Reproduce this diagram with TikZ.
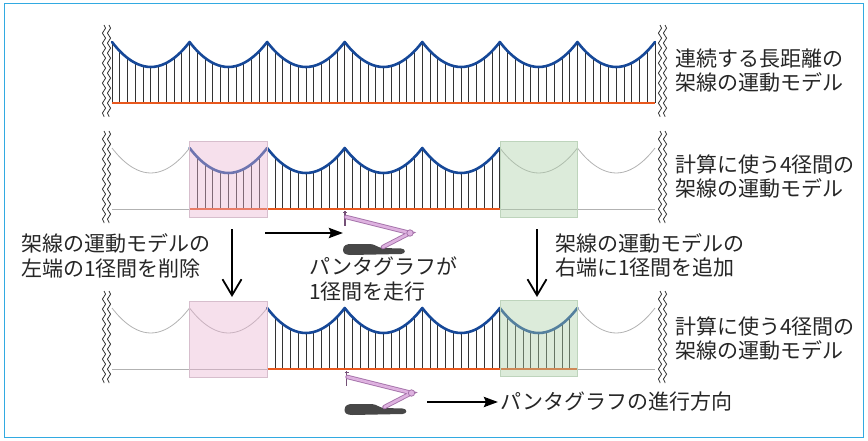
\documentclass[tikz,border=0pt]{standalone}
\usepackage{fontspec}
\setmainfont{Noto Sans CJK JP}
\usetikzlibrary{arrows.meta,decorations.pathmorphing}

\definecolor{wireblue}{RGB}{22,72,152}
\definecolor{railorange}{RGB}{232,88,30}
\definecolor{spangray}{RGB}{178,178,178}
\definecolor{pinkbox}{RGB}{233,180,210}
\definecolor{pinkedge}{RGB}{215,190,205}
\definecolor{greenbox}{RGB}{172,207,167}
\definecolor{greenedge}{RGB}{190,212,188}
\definecolor{frameblue}{RGB}{50,170,225}
\definecolor{armfill}{RGB}{222,178,224}
\definecolor{armedge}{RGB}{165,115,170}

% span geometry: first pole, span length, sag
\def\xo{112}
\def\xs{77.571}
\def\sag{25}

\tikzset{
  livewire/.style={draw=wireblue,line width=2.6pt,line join=round,line cap=round},
  deadwire/.style={draw=spangray,line width=0.8pt},
  dropper/.style={draw=black!80,line width=0.8pt},
  rail/.style={draw=railorange,line width=2.6pt},
  deadrail/.style={draw=spangray,line width=0.9pt},
  breakmark/.style={draw=black!80,line width=0.8pt,decorate,
    decoration={snake,amplitude=1.6pt,segment length=10pt}},
  pinkregion/.style={fill=pinkbox,fill opacity=0.42,draw=pinkedge,line width=0.6pt},
  greenregion/.style={fill=greenbox,fill opacity=0.42,draw=greenedge,line width=0.6pt},
  lbl/.style={font=\fontsize{21}{24.5}\selectfont,align=left,inner sep=0pt,anchor=west,text=black!85},
  downarrow/.style={draw=black,line width=1.8pt,-{Straight Barb[length=16pt,width=19pt,line width=1.8pt]}},
  rightarrow/.style={draw=black,line width=2.6pt,-{Stealth[length=14pt,width=10pt,inset=2pt]}},
  panto/.pic={
    % collector head
    \draw[armedge!70!black,line width=1.2pt] (0,-1) -- (0,14);
    \draw[armedge!70!black,line width=1pt] (-2,0) -- (2,0);
    % collector base
    \fill[black!72] (-2,38) .. controls (-2,33) and (2,32) .. (6,32) -- (25,32)
      .. controls (30,32) and (33,36) .. (38,36) -- (56,36.5)
      .. controls (61,36.5) and (61,42) .. (56,42) -- (6,43)
      .. controls (0,43) and (-2,41) .. (-2,38) -- cycle;
    % arms
    \draw[armedge,line width=4.4pt,line cap=round] (1,5) -- (65,21) -- (38,35);
    \draw[armfill,line width=2.6pt,line cap=round] (1,5) -- (65,21) -- (38,35);
    \draw[armedge,fill=armfill,line width=0.8pt] (65,21) circle (3.2);
  }
}

\begin{document}
\begin{tikzpicture}[x=1pt,y=-1pt]
\useasboundingbox (0,0) rectangle (868,441);

% frame
\draw[frameblue,line width=1.4pt] (4.5,3.5) rectangle (863.5,437.5);

% ---------- top row: continuous long-distance catenary ----------
\def\yp{42}\def\yg{103}
\foreach \k in {0,...,70}{
  \pgfmathsetmacro\t{mod(\k,10)/10}
  \pgfmathsetmacro\xx{\xo+\k*\xs/10}
  \pgfmathsetmacro\yy{\yp+4*\sag*\t*(1-\t)}
  \draw[dropper] (\xx,\yy) -- (\xx,\yg);
}
\draw[rail] (\xo,\yg) -- ({\xo+7*\xs},\yg);
\draw[livewire] (\xo,\yp) \foreach \i in {0,...,6}{
  parabola bend ({\xo+(\i+0.5)*\xs},{\yp+\sag}) ({\xo+(\i+1)*\xs},\yp) };
\draw[breakmark] (104,25) -- (104,117);
\draw[breakmark] (109,25) -- (109,117);
\draw[breakmark] (660,25) -- (660,117);
\draw[breakmark] (665,25) -- (665,117);
\node[lbl] (t1) at (675,70.5) {連続する長距離の\\架線の運動モデル};

% ---------- middle row: four spans used for computation ----------
\def\yp{148}\def\yg{209}
\draw[deadrail] (\xo,\yg) -- ({\xo+\xs},\yg);
\draw[deadrail] ({\xo+5*\xs},\yg) -- ({\xo+7*\xs},\yg);
\draw[deadwire] (\xo,\yp) parabola bend ({\xo+0.5*\xs},{\yp+\sag}) ({\xo+\xs},\yp);
\draw[deadwire] ({\xo+5*\xs},\yp) \foreach \i in {5,6}{
  parabola bend ({\xo+(\i+0.5)*\xs},{\yp+\sag}) ({\xo+(\i+1)*\xs},\yp) };
\draw[dropper] ({\xo+6*\xs},\yp) -- ({\xo+6*\xs},\yg);
\foreach \k in {10,...,50}{
  \pgfmathsetmacro\t{mod(\k,10)/10}
  \pgfmathsetmacro\xx{\xo+\k*\xs/10}
  \pgfmathsetmacro\yy{\yp+4*\sag*\t*(1-\t)}
  \draw[dropper] (\xx,\yy) -- (\xx,\yg);
}
\draw[rail] ({\xo+\xs},\yg) -- ({\xo+5*\xs},\yg);
\draw[livewire] ({\xo+\xs},\yp) \foreach \i in {1,...,4}{
  parabola bend ({\xo+(\i+0.5)*\xs},{\yp+\sag}) ({\xo+(\i+1)*\xs},\yp) };
\draw[pinkregion] ({\xo+\xs},141) rectangle ({\xo+2*\xs},217);
\draw[greenregion] ({\xo+5*\xs},141) rectangle ({\xo+6*\xs},217);
\draw[breakmark] (104,131) -- (104,223);
\draw[breakmark] (109,131) -- (109,223);
\draw[breakmark] (660,131) -- (660,223);
\draw[breakmark] (665,131) -- (665,223);
\node[lbl] (t2) at (675,176.5) {計算に使う4径間の\\架線の運動モデル};

% ---------- bottom row: model shifted by one span ----------
\def\yp{308}\def\yg{369}
\draw[deadrail] (\xo,\yg) -- ({\xo+2*\xs},\yg);
\draw[deadrail] ({\xo+6*\xs},\yg) -- ({\xo+7*\xs},\yg);
\draw[deadwire] (\xo,\yp) \foreach \i in {0,1}{
  parabola bend ({\xo+(\i+0.5)*\xs},{\yp+\sag}) ({\xo+(\i+1)*\xs},\yp) };
\draw[deadwire] ({\xo+6*\xs},\yp) parabola bend ({\xo+6.5*\xs},{\yp+\sag}) ({\xo+7*\xs},\yp);
\foreach \k in {20,...,60}{
  \pgfmathsetmacro\t{mod(\k,10)/10}
  \pgfmathsetmacro\xx{\xo+\k*\xs/10}
  \pgfmathsetmacro\yy{\yp+4*\sag*\t*(1-\t)}
  \draw[dropper] (\xx,\yy) -- (\xx,\yg);
}
\draw[rail] ({\xo+2*\xs},\yg) -- ({\xo+6*\xs},\yg);
\draw[livewire] ({\xo+2*\xs},\yp) \foreach \i in {2,...,5}{
  parabola bend ({\xo+(\i+0.5)*\xs},{\yp+\sag}) ({\xo+(\i+1)*\xs},\yp) };
\draw[pinkregion] ({\xo+\xs},301) rectangle ({\xo+2*\xs},377);
\draw[greenregion] ({\xo+5*\xs},300) rectangle ({\xo+6*\xs},376);
\draw[breakmark] (104,291) -- (104,383);
\draw[breakmark] (109,291) -- (109,383);
\draw[breakmark] (660,291) -- (660,383);
\draw[breakmark] (665,291) -- (665,383);
\node[lbl] (t3) at (675,338.5) {計算に使う4径間の\\架線の運動モデル};

% ---------- pantographs ----------
\pic at (345,212) {panto};
\pic at (346.5,372) {panto};

% ---------- explanations and arrows ----------
\node[lbl] (tl) at (21,256) {架線の運動モデルの\\左端の1径間を削除};
\node[lbl] (tc) at (309,279) {パンタグラフが\\1径間を走行};
\node[lbl] (tr) at (555,255.5) {架線の運動モデルの\\右端に1径間を追加};
\node[lbl] (tb) at (500,402) {パンタグラフの進行方向};

\coordinate (dl1) at (232,229);
\coordinate (dl2) at (232,297);
\coordinate (dr1) at (537,229);
\coordinate (dr2) at (537,297);
\coordinate (ra1) at (265,233);
\coordinate (ra2) at (343,233);
\coordinate (rb1) at (427,402);

\draw[downarrow] (dl1) -- (dl2);
\draw[downarrow] (dr1) -- (dr2);
\draw[rightarrow] (ra1) -- (ra2);
\draw[rightarrow] (rb1) -- ([xshift=-2pt]tb.west);
\end{tikzpicture}
\end{document}
